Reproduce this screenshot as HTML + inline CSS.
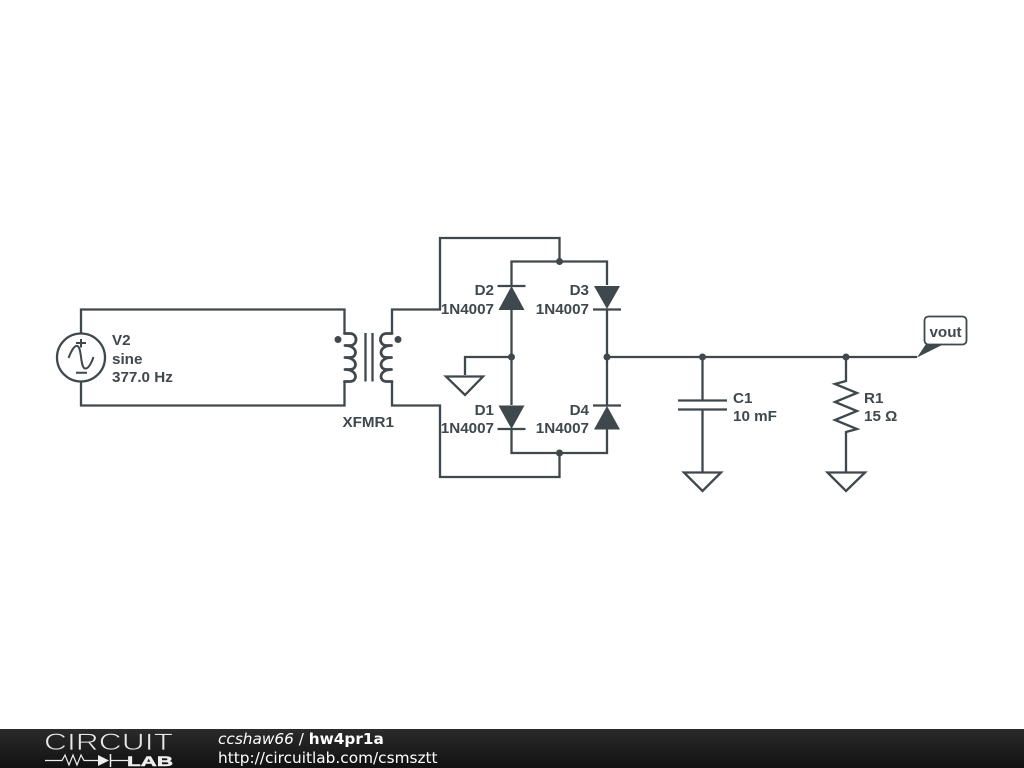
<!DOCTYPE html>
<html>
<head>
<meta charset="utf-8">
<style>
html,body{margin:0;padding:0;background:#fff;width:1024px;height:768px;overflow:hidden}
svg{display:block}
.l{font-family:"Liberation Sans",sans-serif;font-weight:700;font-size:15.200px;fill:#3f484c}
.w{fill:none;stroke:#3f484c;stroke-width:2.300}
</style>
</head>
<body>
<svg width="1024" height="768" viewBox="0 0 1024 768" xmlns="http://www.w3.org/2000/svg">
<defs>
<linearGradient id="bar" x1="0" y1="0" x2="0" y2="1">
<stop offset="0" stop-color="#2b2b2b"/>
<stop offset="1" stop-color="#111111"/>
</linearGradient>
</defs>
<rect width="1024" height="768" fill="#fff"/>

<!-- V2 -->
<path class="w" d="M81 333V309.500H344.500V333.500M81 382V405.500H344.500V381.500"/>
<circle class="w" cx="81" cy="357.500" r="24"/>
<path class="w" style="stroke-width:2" d="M68.500 358C72 349 75 345 77.500 346C82 348 80 367 85 368.500C88 369 91 364 93.500 357M81 339V347.500M76 343H86M76 372.700H87"/>
<text class="l" x="112" y="345">V2</text>
<text class="l" x="112" y="364">sine</text>
<text class="l" x="112" y="382">377.0 Hz</text>

<!-- Transformer -->
<path class="w" style="stroke-width:2.800" stroke-linecap="round" d="M344.500 333.500H350C358 333.500 358 345.500 350 345.500H345M345 345.500C358 345.500 358 357.500 350 357.500H345M345 357.500C358 357.500 358 369.500 350 369.500H345M345 369.500C358 369.500 358 381.500 350 381.500H344.500"/>
<path class="w" style="stroke-width:2.800" stroke-linecap="round" d="M392 333.500H386.500C378.500 333.500 378.500 345.500 386.500 345.500H391.500M391.500 345.500C378.500 345.500 378.500 357.500 386.500 357.500H391.500M391.500 357.500C378.500 357.500 378.500 369.500 386.500 369.500H391.500M391.500 369.500C378.500 369.500 378.500 381.500 386.500 381.500H392"/>
<path class="w" d="M365.500 333V381.500M372.500 333V381.500"/>
<circle cx="338" cy="339.500" r="3.500" fill="#3f484c"/>
<circle cx="398" cy="339.500" r="3.500" fill="#3f484c"/>
<text class="l" x="342.500" y="427">XFMR1</text>
<path class="w" d="M392 333.500V309.500H440V238H559.500V261.500M392 381.500V405.500H440V477H559.500V453"/>

<!-- Bridge -->
<path class="w" d="M511.500 285V261.500H607V285M511.500 309V405M607 309V405M511.500 429V453H607V429"/>
<path class="w" d="M465 375V357H511.500M607 357H917"/>

<!-- D2 -->
<path class="w" d="M497.500 286H525.500"/>
<path d="M511.500 286L498.500 310H524.500Z" fill="#3f484c"/>
<text class="l" x="494" y="295" text-anchor="end">D2</text>
<text class="l" x="494" y="314" text-anchor="end">1N4007</text>
<!-- D3 -->
<path class="w" d="M593 309.500H621"/>
<path d="M607 309L594 286H620Z" fill="#3f484c"/>
<text class="l" x="589" y="295" text-anchor="end">D3</text>
<text class="l" x="589" y="314" text-anchor="end">1N4007</text>
<!-- D1 -->
<path class="w" d="M497.500 429H525.500"/>
<path d="M511.500 429L498.500 405.500H524.500Z" fill="#3f484c"/>
<text class="l" x="494" y="415" text-anchor="end">D1</text>
<text class="l" x="494" y="433" text-anchor="end">1N4007</text>
<!-- D4 -->
<path class="w" d="M593 405.500H621"/>
<path d="M607 406L594 429.500H620Z" fill="#3f484c"/>
<text class="l" x="589" y="415" text-anchor="end">D4</text>
<text class="l" x="589" y="433" text-anchor="end">1N4007</text>

<!-- Junctions -->
<g fill="#3f484c">
<circle cx="559.500" cy="261.500" r="3.500"/>
<circle cx="559.500" cy="453" r="3.500"/>
<circle cx="511.500" cy="357" r="3.500"/>
<circle cx="607" cy="357" r="3.500"/>
<circle cx="702.500" cy="357" r="3.500"/>
<circle cx="846" cy="357" r="3.500"/>
</g>

<!-- Ground near bridge -->
<path class="w" d="M446 376.500H483L465 395Z"/>

<!-- C1 -->
<path class="w" d="M702.500 357V400M702.500 410V472M678 400.500H727M678 409.500H727"/>
<path class="w" d="M684 472.500H721L702.500 491Z"/>
<text class="l" x="733" y="403">C1</text>
<text class="l" x="733" y="421">10 mF</text>

<!-- R1 -->
<path class="w" d="M846 357V381L835 384L857 393L835 402L857 411L835 420L857 429L846 432V472"/>
<path class="w" d="M827.500 472.500H865L846 491Z"/>
<text class="l" x="864" y="403">R1</text>
<text class="l" x="864" y="421">15 Ω</text>

<!-- vout -->
<path d="M917 357.500L926 344H944Z" fill="#3f484c"/>
<rect x="924.500" y="316.500" width="42" height="28" rx="4" ry="4" fill="#fff" stroke="#3f484c" stroke-width="1.800"/>
<text class="l" x="945.500" y="337" text-anchor="middle">vout</text>

<!-- Footer -->
<rect x="0" y="729" width="1024" height="39" fill="url(#bar)"/>
<text x="44" y="750" font-family="'Liberation Sans',sans-serif" font-size="24" fill="#e8e8e8" stroke="#222" stroke-width="0.700" textLength="129" lengthAdjust="spacingAndGlyphs">CIRCUIT</text>
<path d="M45 760.500H62L65 755L69 765L73 755L77 765L81 755L84 760.500H98M110 760.500H128" fill="none" stroke="#eee" stroke-width="1.200"/>
<path d="M98 755V766L109 760.500Z" fill="#eee"/>
<path d="M110.500 754V767" stroke="#eee" stroke-width="1.500"/>
<text x="127" y="766" font-family="'Liberation Sans',sans-serif" font-weight="700" font-size="14" fill="#eee" stroke="#eee" stroke-width="0.500" textLength="46" lengthAdjust="spacingAndGlyphs">LAB</text>
<text x="218" y="744" font-family="'DejaVu Sans',sans-serif" font-size="15.300" fill="#fff"><tspan font-style="italic">ccshaw66</tspan> / <tspan font-weight="700">hw4pr1a</tspan></text>
<text x="218" y="763" font-family="'DejaVu Sans',sans-serif" font-size="15.330" fill="#fff">http://circuitlab.com/csmsztt</text>
</svg>
</body>
</html>
